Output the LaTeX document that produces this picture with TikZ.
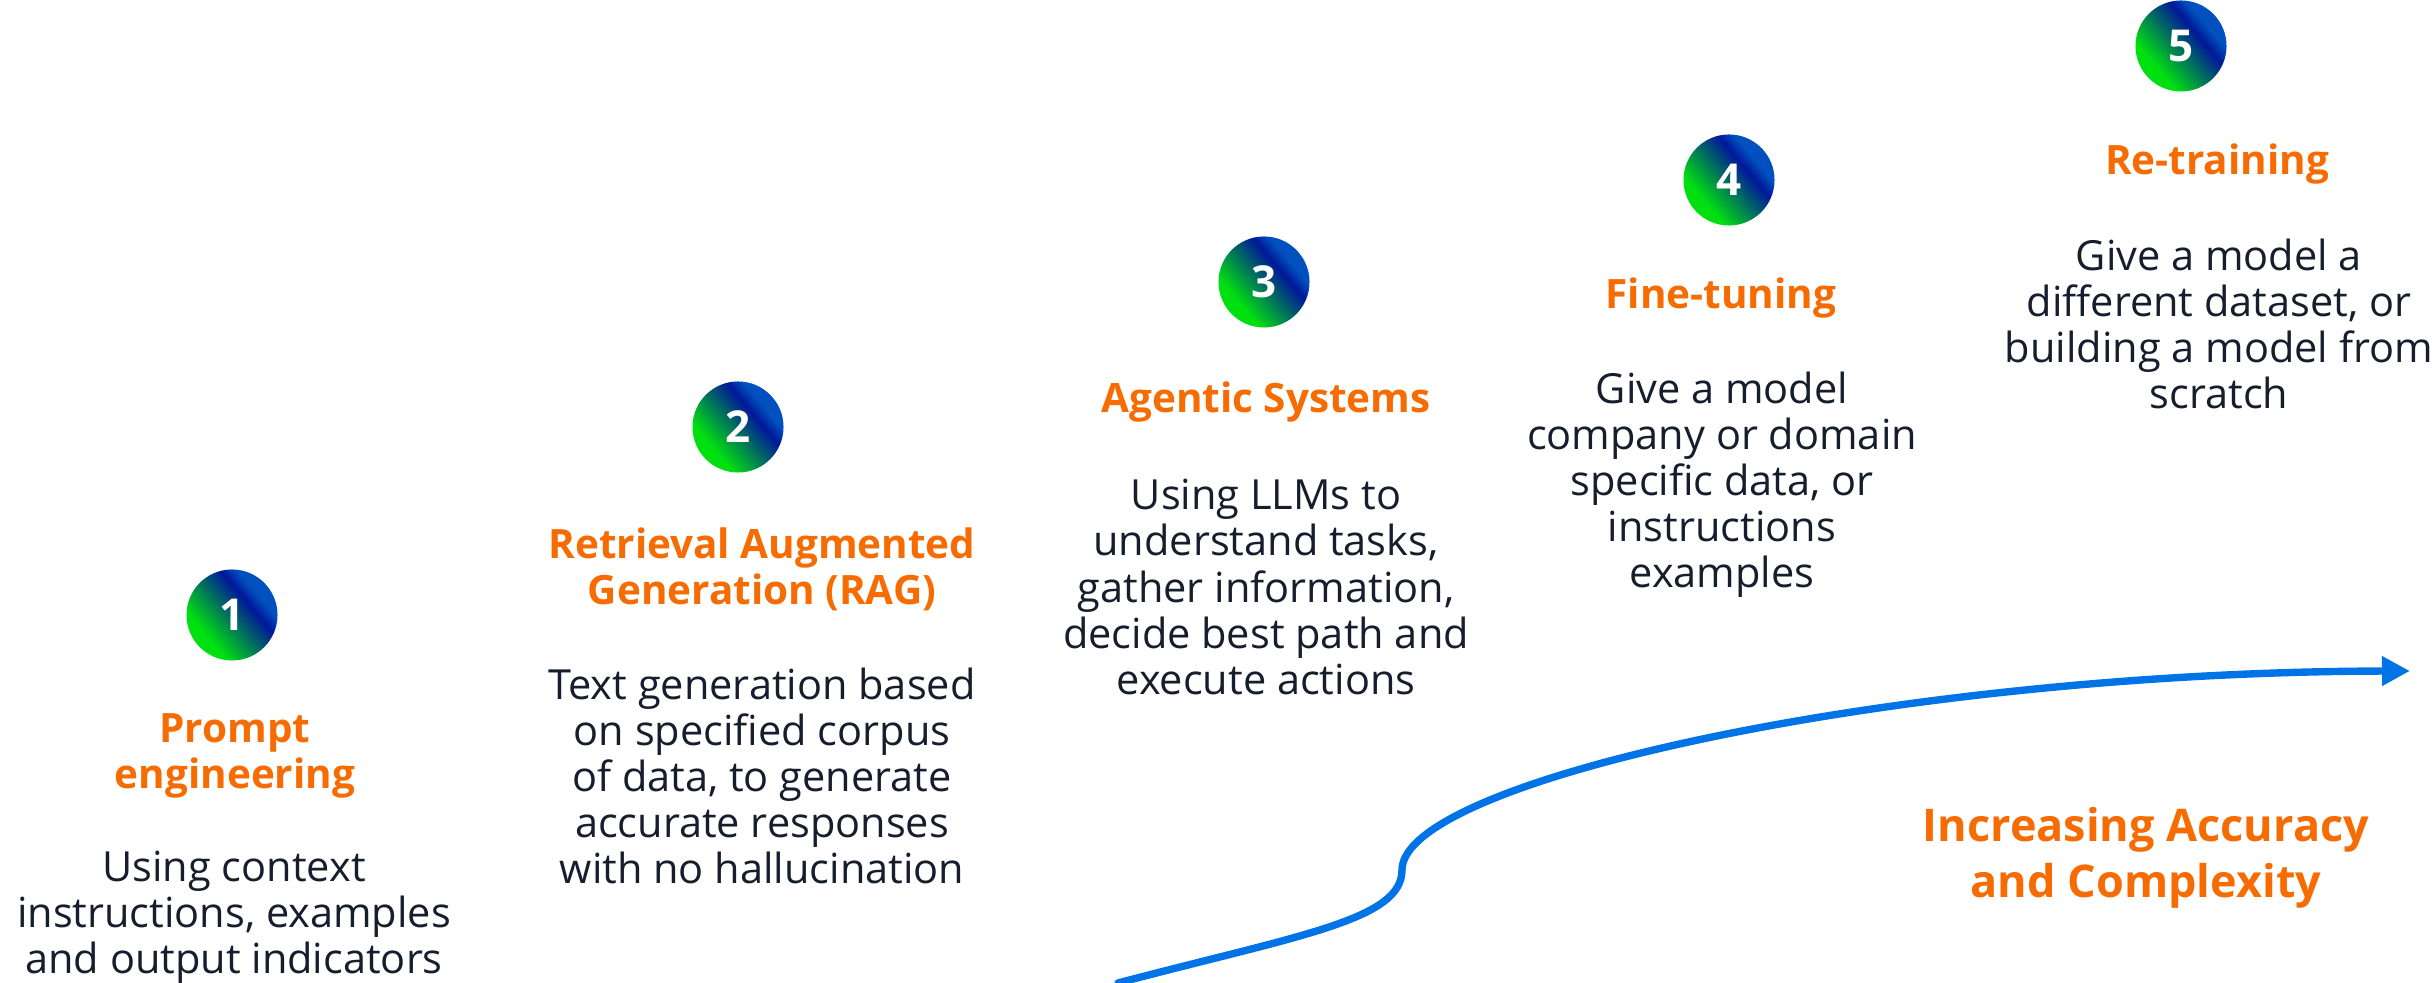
\documentclass[tikz,border=0pt]{standalone}
\usepackage{xcolor}
\usepackage{fontspec}
\setmainfont{Open Sans}
\usepackage{tikz}
\usetikzlibrary{arrows.meta}
\definecolor{fwwcqs}{rgb}{0.965,0.424,0.008}
\definecolor{rwresd}{rgb}{0.086,0.118,0.176}
\definecolor{qqxtew}{rgb}{0.,0.451,0.902}
\definecolor{qqeqrq}{rgb}{0.,0.878,0.063}
\definecolor{qqryza}{rgb}{0.,0.094,0.604}
\definecolor{qqvqcq}{rgb}{0.,0.314,0.753}
\pgfdeclareverticalshading{badge}{100bp}{color(0bp)=(qqeqrq); color(32bp)=(qqeqrq); color(61bp)=(qqryza); color(68bp)=(qqvqcq); color(100bp)=(qqvqcq)}
\tikzstyle{every node}=[font=\fontsize{11.8}{13.1}\selectfont,text=rwresd,align=center]
\tikzstyle{num}=[circle,inner sep=0pt,minimum size=0.91cm,shading=badge,shading angle=-50,text=white,font=\bfseries\fontsize{12.5}{14}\selectfont]
\tikzstyle{title}=[text=fwwcqs,font=\bfseries\fontsize{11.5}{13.1}\selectfont]

\begin{document}
\begin{tikzpicture}[line cap=round,line join=round,>={Triangle[length=0.28cm,width=0.28cm]},x=0.01cm,y=-0.01cm]
            \useasboundingbox (0,0) rectangle (2435,983);
            \clip(0,0) rectangle (2435,983);
            \node[num] (n1) at (232,615) {1};
            \node[title] (t1) at (235,756) {Prompt\\engineering};
            \node (d1) at (234,917) {Using context\\instructions, examples\\and output indicators};
            \node[num] (n2) at (738,427) {2};
            \node[title] (t2) at (762,569) {Retrieval Augmented\\Generation (RAG)};
            \node (d2) at (762,776) {Text generation based\\on specified corpus\\of data, to generate\\accurate responses\\with no hallucination};
            \node[num] (n3) at (1264,282) {3};
            \node[title] (t3) at (1266,402) {Agentic Systems};
            \node (d3) at (1266,587) {Using LLMs to\\understand tasks,\\gather information,\\decide best path and\\execute actions};
            \node[num] (n4) at (1729,180) {4};
            \node[title] (t4) at (1721,298) {Fine-tuning};
            \node (d4) at (1722,485) {Give a model\\company or domain\\specific data, or\\instructions\\examples};
            \node[num] (n5) at (2181,46) {5};
            \node[title] (t5) at (2217,164) {Re-training};
            \node (d5) at (2219,324) {Give a model a\\different dataset, or\\building a model from\\scratch};
            \node[title,font=\bfseries\fontsize{12.8}{15.9}\selectfont] (acc) at (2146,858) {Increasing Accuracy\\and Complexity};
            \coordinate (s) at (1118,983);
            \coordinate (m) at (1402,870);
            \coordinate (e) at (2410,671);
            \draw [->,line width=2.1pt,color=qqxtew] (s) .. controls (1300,935) and (1402,920) .. (m) .. controls (1402,780) and (1900,672) .. (e);
\end{tikzpicture}
\end{document}
